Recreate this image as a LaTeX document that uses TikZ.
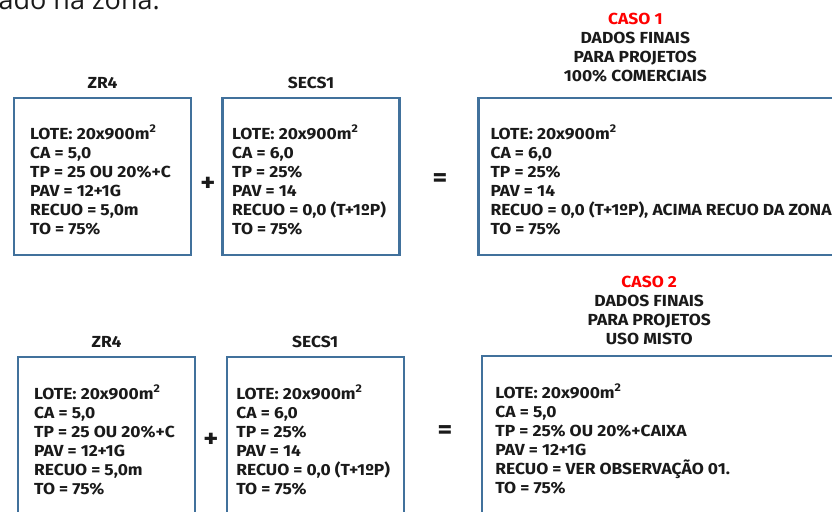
\documentclass[tikz,border=0pt]{standalone}
\usepackage{fontspec}
\setmainfont{Fira Sans}[FakeStretch=1.09]
\newfontfamily\introfont{Open Sans}
\usetikzlibrary{positioning}
\definecolor{boxblue}{RGB}{65,113,156}
\definecolor{casered}{RGB}{255,0,0}
\definecolor{ink}{RGB}{26,26,26}

\begin{document}
\begin{tikzpicture}[x=1pt,y=-1pt,node distance=9pt,
   lot/.style={draw=boxblue, line width=2.4pt, anchor=north west, outer sep=0pt,
      inner sep=0pt, minimum width=177pt, minimum height=157pt},
   widelot/.style={lot, minimum width=420pt},
   params/.style={align=left, anchor=north west, inner sep=0pt, text=ink,
      font=\bfseries\fontsize{16}{19}\selectfont},
   zone/.style={align=center, inner sep=0pt, text=ink,
      font=\bfseries\fontsize{16}{19}\selectfont},
   sign/.style={inner sep=0pt, text=ink, font=\bfseries\fontsize{26}{26}\selectfont}]
   \useasboundingbox (0,0) rectangle (832,511);
   \clip (0,0) rectangle (832,511);
   % cut-off line of the page text above
   \node[anchor=base east, inner sep=0pt, text=ink, font=\introfont\fontsize{27}{30}\selectfont]
      (intro) at (160,9.5) {ado na zona.};
   % caso 1
   \node[lot] (zrA) at (14,98) {};
   \node[lot] (secsA) at (222.5,98) {};
   \node[widelot] (finalA) at (478.3,98) {};
   \node[zone, above=of zrA] (zrAtitle) {ZR4};
   \node[zone, above=of secsA] (secsAtitle) {SECS1};
   \node[zone, above=16pt of finalA.north west, xshift=157pt] (finalAtitle)
      {{\color{casered}CASO 1}\\DADOS FINAIS\\PARA PROJETOS\\100\% COMERCIAIS};
   \node[params, below right=27pt and 16pt of zrA.north west] (zrAtext)
      {LOTE: 20x900m\textsuperscript{2}\\CA = 5,0\\TP = 25 OU 20\%+C\\PAV = 12+1G\\RECUO = 5,0m\\TO = 75\%};
   \node[params, below right=27pt and 9.5pt of secsA.north west] (secsAtext)
      {LOTE: 20x900m\textsuperscript{2}\\CA = 6,0\\TP = 25\%\\PAV = 14\\RECUO = 0,0 (T+1ºP)\\TO = 75\%};
   \node[params, below right=27pt and 12pt of finalA.north west] (finalAtext)
      {LOTE: 20x900m\textsuperscript{2}\\CA = 6,0\\TP = 25\%\\PAV = 14\\RECUO = 0,0 (T+1ºP), ACIMA RECUO DA ZONA\\TO = 75\%};
   \node[sign] (plusA) at (208,184) {+};
   \node[sign] (eqA) at (440,180) {=};
   % caso 2
   \node[lot] (zrB) at (18,357) {};
   \node[lot] (secsB) at (226.7,357) {};
   \node[widelot] (finalB) at (482.2,356) {};
   \node[zone, above=of zrB] (zrBtitle) {ZR4};
   \node[zone, above=of secsB] (secsBtitle) {SECS1};
   \node[zone, above=11pt of finalB.north west, xshift=167pt] (finalBtitle)
      {{\color{casered}CASO 2}\\DADOS FINAIS\\PARA PROJETOS\\USO MISTO};
   \node[params, below right=28pt and 16pt of zrB.north west] (zrBtext)
      {LOTE: 20x900m\textsuperscript{2}\\CA = 5,0\\TP = 25 OU 20\%+C\\PAV = 12+1G\\RECUO = 5,0m\\TO = 75\%};
   \node[params, below right=28pt and 9.5pt of secsB.north west] (secsBtext)
      {LOTE: 20x900m\textsuperscript{2}\\CA = 6,0\\TP = 25\%\\PAV = 14\\RECUO = 0,0 (T+1ºP)\\TO = 75\%};
   \node[params, below right=28pt and 13pt of finalB.north west] (finalBtext)
      {LOTE: 20x900m\textsuperscript{2}\\CA = 5,0\\TP = 25\% OU 20\%+CAIXA\\PAV = 12+1G\\RECUO = VER OBSERVAÇÃO 01.\\TO = 75\%};
   \node[sign] (plusB) at (211,440) {+};
   \node[sign] (eqB) at (445,432) {=};
\end{tikzpicture}
\end{document}
